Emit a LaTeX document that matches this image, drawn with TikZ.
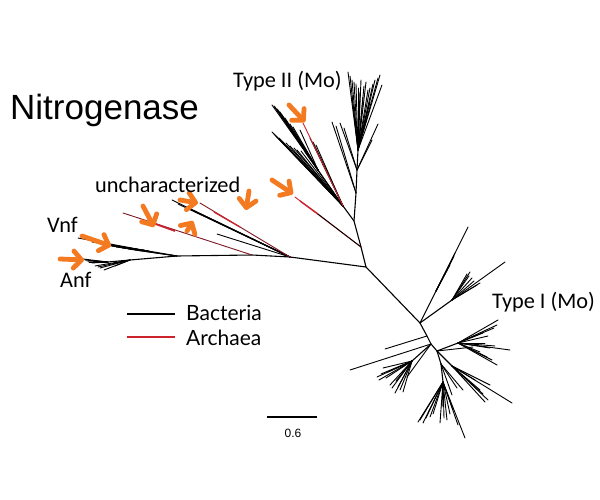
\documentclass[tikz,border=0pt]{standalone}
\usepackage{fontspec}
\setmainfont{Carlito}
\newfontfamily\arialf{Liberation Sans}
\newfontfamily\latof{Lato}
\usetikzlibrary{arrows.meta}
\definecolor{archred}{RGB}{205,35,45}
\definecolor{dkred}{RGB}{125,25,35}
\definecolor{orng}{RGB}{243,122,32}
\begin{document}
\begin{tikzpicture}[x=1pt,y=-1pt,
  br/.style={line width=0.9pt,black,line cap=round},
  stem/.style={line width=1.1pt,black,line cap=round,line join=round},
  rb/.style={line width=0.9pt,archred,line cap=round},
  drb/.style={line width=0.9pt,dkred,line cap=round},
  orarrow/.style={line width=4.8pt,orng,line cap=round,
    -{Straight Barb[length=8pt,width=17pt,round]}},
  lbl/.style={anchor=base west,inner sep=0pt,font=\fontsize{22.3}{24}\selectfont}]
\path[use as bounding box] (0,0) rectangle (600,500);
% ---------- coordinates of internal nodes
\coordinate (R) at (366,267);
\coordinate (L1) at (290,257);
\coordinate (L2) at (252,255);
\coordinate (L3) at (177,256);
\coordinate (A0) at (130,260);
\coordinate (A1) at (108,262);
\coordinate (V1) at (148,251);
\coordinate (U1) at (361,247);
\coordinate (U2) at (354,221);
\coordinate (LF) at (343,206);
\coordinate (LF2) at (318,170);
\coordinate (U3) at (356,193);
\coordinate (T1) at (357,170);
\coordinate (T2) at (358,150);
\coordinate (P1) at (420,323);
\coordinate (P2) at (427,336);
\coordinate (P3) at (431,344);
\coordinate (P4) at (437,351);
\coordinate (P5) at (441,364);
\coordinate (Q1) at (436,291);
\coordinate (Q2) at (452,300);
\coordinate (Q3) at (412,361);
\coordinate (Q4) at (458,343);
\coordinate (Q5) at (452,366);
\coordinate (Q6) at (443,382);
% ---------- backbone
\draw[stem] (A0) -- (L3) -- (L2) -- (L1) -- (R) -- (U1) -- (U2) -- (U3) -- (T1) -- (T2);
\draw[stem] (R) -- (P1) -- (P2) -- (P3) -- (P4) -- (P5);
% ---------- Anf
\draw[stem] (A0) -- (A1);
\foreach \p in {(83,259),(85,260),(87,261),(89,262),(92,263),(95,262)} \draw[br] (A1) -- \p;
\foreach \p in {(95,266),(98,267),(100,268),(104,270),(112,264),(115,266)} \draw[br] (A0) -- \p;
% ---------- Vnf
\draw[stem] (L3) -- (V1);
\foreach \p in {(78,238),(92,242),(97,243),(100,243),(105,245),(108,245),(112,246),(116,247),(122,248)} \draw[br] (V1) -- \p;
\draw[br] (L3) -- (128,249);
\draw[br] (L3) -- (135,250);
% ---------- uncharacterized
\draw[drb] (L2) -- (123,213);
\draw[line width=1.8pt,archred] (150,222) -- (175,231);
\draw[br] (L1) -- (172,200);
\draw[br] (L1) -- (178,204);
\draw[br,line width=1.3pt] (L1) -- (186,207);
\draw[br] (L1) -- (192,210);
\draw[br] (L1) -- (217,234);
\draw[drb] (L1) -- (200,203);
\draw[line width=1.3pt,archred] (214,212) -- (240,227);
% ---------- branch with archaeal tip near Type II
\draw[rb] (U1) -- (295,197);
\draw[line width=1.4pt,archred] (300,201) -- (318,214);
\draw[br] (U1) -- (318,214);
% ---------- Type II left fan
\draw[stem] (U2) -- (LF) -- (LF2);
\foreach \p in {(272,132),(274,134),(276,136),(279,138),(282,141),(286,143),(290,146),(294,148),(297,150),(301,151),(305,152),(310,138),(313,142),(316,145)} \draw[br] (LF) -- \p;
\foreach \p in {(272,105),(274,106),(275,107),(277,109),(278,110),(280,112),(282,115),(285,118),(287,122),(290,124),(293,127),(300,130)} \draw[br] (LF2) -- \p;
\draw[rb] (LF) -- (303,123);
% ---------- Type II top fan
\foreach \p in {(348,72),(350,76),(352,80),(354,82),(356,84),(358,88),(360,92),(363,97),(364,86),(366,82),(368,90),(370,88),(373,84),(375,80),(378,78),(380,75),(382,85),(370,102),(352,96),(361,80)} \draw[br] (T2) -- \p;
\foreach \p in {(340,123),(344,128),(372,140),(378,124)} \draw[br] (T1) -- \p;
\draw[br] (U3) -- (332,122);
\draw[br] (U3) -- (336,126);
% ---------- Type I
\draw[stem] (P1) -- (Q1);
\foreach \p in {(468,227),(455,253),(454,256),(453,258),(450,265),(447,270)} \draw[br] (Q1) -- \p;
\draw[stem] (P1) -- (Q2);
\foreach \p in {(505,262),(470,272),(467,274),(469,276),(477,285),(480,283),(472,278),(474,281)} \draw[br] (Q2) -- \p;
\draw[br] (P2) -- (385,349);
\draw[br] (P3) -- (350,370);
\draw[stem] (P3) -- (Q3);
\foreach \p in {(377,377),(379,380),(381,374),(383,368),(386,378),(388,372),(390,385),(392,388),(395,393),(398,387),(400,390),(403,392),(396,381)} \draw[br] (Q3) -- \p;
\draw[br] (P3) -- (407,377);
\draw[stem] (P4) -- (Q4);
\foreach \p in {(498,320),(497,325),(494,328),(483,333),(488,336),(485,343),(490,348),(495,346),(510,350),(487,357),(492,360),(497,365),(480,352)} \draw[br] (Q4) -- \p;
\draw[br] (P4) -- (473,347);
\draw[stem] (P4) -- (Q5);
\foreach \p in {(485,402),(488,400),(512,403),(480,390),(483,394),(490,385),(475,380)} \draw[br] (Q5) -- \p;
\draw[stem] (P5) -- (Q6);
\foreach \p in {(418,422),(420,420),(423,423),(426,418),(430,417),(433,414),(440,423),(444,418),(447,420),(442,407),(450,414),(453,410),(458,425),(465,438)} \draw[br] (Q6) -- \p;
\foreach \p in {(457,388),(463,390),(452,395)} \draw[br] (P5) -- \p;
% ---------- orange arrows
\draw[orarrow] (60,259) -- (84,260);
\draw[orarrow] (82,236) -- (111,246);
\draw[orarrow] (143,206) -- (154,227);
\draw[orarrow] (187,231) -- (193,221);
\draw[orarrow] (180,200) -- (198,203);
\draw[orarrow] (249,191) -- (246,210);
\draw[orarrow] (272,180) -- (293,194);
\draw[orarrow] (289,105) -- (305,122);
% ---------- labels
\node[anchor=base west,inner sep=0pt,font=\arialf\fontsize{35}{40}\selectfont] (title) at (10,120) {Nitrogenase};
\node[lbl] (t2) at (233,88) {Type II (Mo)};
\node[lbl] (unc) at (95,193) {uncharacterized};
\node[lbl] (vnf) at (47,232) {Vnf};
\node[lbl] (anf) at (60,287) {Anf};
\node[lbl] (t1) at (492,308) {Type I (Mo)};
% ---------- legend
\coordinate (lb1) at (127,314); \coordinate (lb2) at (175,314);
\coordinate (lr1) at (127,337); \coordinate (lr2) at (175,337);
\draw[line width=1.3pt,black] (lb1) -- (lb2);
\draw[line width=1.6pt,archred] (lr1) -- (lr2);
\node[anchor=base west,inner sep=0pt,font=\latof\fontsize{21}{24}\selectfont] (bac) at (186,320) {Bacteria};
\node[anchor=base west,inner sep=0pt,font=\latof\fontsize{21}{24}\selectfont] (arc) at (186,345) {Archaea};
% ---------- scale bar
\coordinate (s1) at (267,417); \coordinate (s2) at (317,417);
\draw[line width=1.3pt] (s1) -- (s2);
\node[anchor=base,inner sep=0pt,font=\arialf\fontsize{12}{14}\selectfont] (sc) at (293,437) {0.6};
\end{tikzpicture}
\end{document}
